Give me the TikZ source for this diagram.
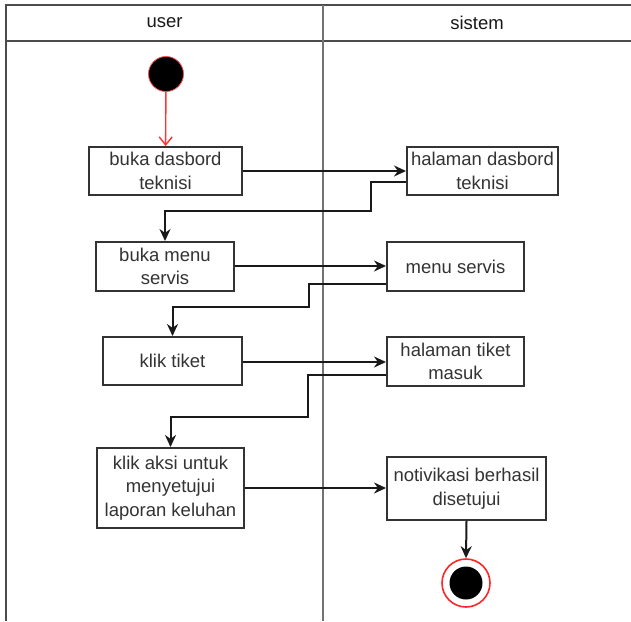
\documentclass[tikz,border=0pt]{standalone}
\usepackage{fontspec}
\setmainfont{Liberation Sans}
\usetikzlibrary{arrows.meta}
\begin{document}
\begin{tikzpicture}[x=1pt,y=-1pt,
  lane/.style={draw=black!70,line width=2.2pt},
  act/.style={draw=black!80,line width=2pt,fill=white,align=center,inner sep=0pt,
    font=\fontsize{18.5}{23.5}\selectfont,text=black!80},
  flow/.style={draw=black!90,line width=2pt,-{Stealth[length=12pt,width=11pt]}},
  startflow/.style={draw=red!80,line width=1.4pt,-{Straight Barb[length=8pt,width=13pt]}},
  head/.style={font=\fontsize{18.5}{22}\selectfont,text=black!90}]
\useasboundingbox (0,0) rectangle (631,621);
\fill[white] (0,0) rectangle (631,621);

% swimlane frame
\draw[lane] (631,5) -- (6,5) -- (6,621);
\draw[lane] (6,41) -- (631,41);
\draw[lane,draw=black!55] (323,5) -- (323,621);
\node[head] (huser) at (164.5,23) {user};
\node[head] (hsis) at (477,23) {sistem};

% start and end states
\node[circle,fill=black,draw=red!70,line width=0.8pt,minimum size=35pt,inner sep=0pt] (start) at (166,74) {};
\node[circle,fill=white,draw=red!85,line width=1.6pt,minimum size=48pt,inner sep=0pt] (stop) at (466,583) {};
\node[circle,fill=black,minimum size=33pt,inner sep=0pt] (stopin) at (466,583) {};

% activities
\node[act,minimum width=153pt,minimum height=48pt] (b1) at (165.5,171) {buka dasbord\\teknisi};
\node[act,minimum width=151pt,minimum height=48pt] (b2) at (482.5,171) {halaman dasbord\\teknisi};
\node[act,minimum width=138pt,minimum height=49pt] (b3) at (165,266.5) {buka menu\\servis};
\node[act,minimum width=137pt,minimum height=49pt] (b4) at (455.5,266.5) {menu servis};
\node[act,minimum width=139pt,minimum height=48pt] (b5) at (172.5,361) {klik tiket};
\node[act,minimum width=137pt,minimum height=49pt] (b6) at (455.5,361.5) {halaman tiket\\masuk};
\node[act,minimum width=147pt,minimum height=80pt] (b7) at (170.5,488) {klik aksi untuk\\menyetujui\\laporan keluhan};
\node[act,minimum width=159pt,minimum height=63pt] (b8) at (466.5,488.5) {notivikasi berhasil\\disetujui};

% flows
\draw[startflow] (start) -- (b1);
\draw[flow] (b1.east) -- (b2.west);
\draw[flow] (b2.west |- 0,182) -| (371,211) -| (b3.north);
\draw[flow] (b3.east |- 0,266) -- (b4.west |- 0,266);
\draw[flow] (b4.west |- 0,284) -| (309,307) -| (b5.north);
\draw[flow] (b5.east |- 0,362) -- (b6.west |- 0,362);
\draw[flow] (b6.west |- 0,375) -| (308,417) -| (b7.north);
\draw[flow] (b7.east |- 0,488) -- (b8.west |- 0,488);
\draw[flow] (b8.south) -- (stop.north);
\end{tikzpicture}
\end{document}
